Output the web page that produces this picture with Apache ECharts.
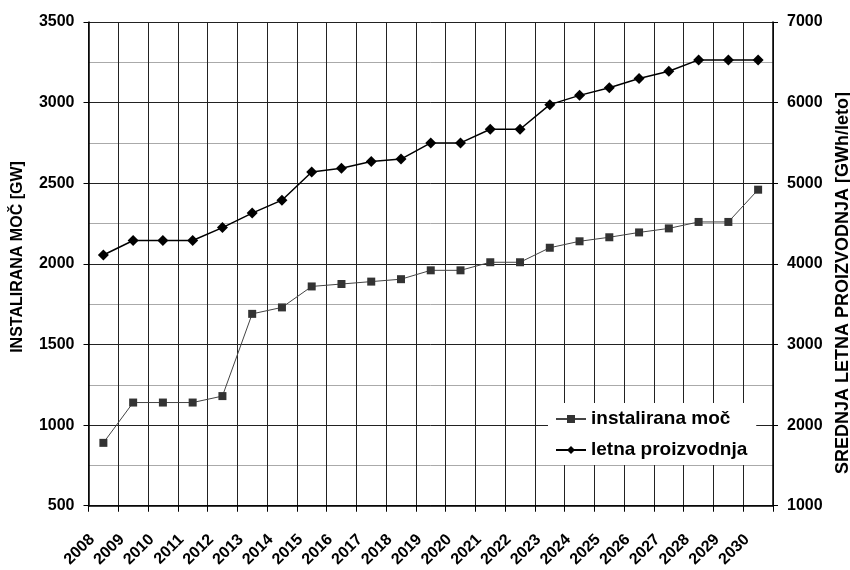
<!DOCTYPE html>
<html>
<head>
<meta charset="utf-8">
<script src="https://cdn.jsdelivr.net/npm/echarts@6/dist/echarts.min.js"></script>
<style>
  html, body { margin: 0; padding: 0; background: #fff; }
  #chart { width: 850px; height: 570px; }
</style>
</head>
<body>
<div id="chart"></div>
<script>
(function() {
  'use strict';

  // podatki
  var years = ['2008', '2009', '2010', '2011', '2012', '2013', '2014', '2015', '2016', '2017', '2018', '2019',
    '2020', '2021', '2022', '2023', '2024', '2025', '2026', '2027', '2028', '2029', '2030'];
  var instaliranaMoc = [890, 1140, 1140, 1140, 1180, 1690, 1730, 1860, 1875, 1890, 1905, 1960,
    1960, 2010, 2010, 2100, 2140, 2165, 2195, 2220, 2260, 2260, 2460];
  var letnaProizvodnja = [4110, 4290, 4290, 4290, 4450, 4630, 4790, 5140, 5185, 5270, 5300, 5500,
    5500, 5670, 5670, 5975, 6090, 6185, 6300, 6390, 6530, 6530, 6530];

  var font = 'Arial, "Liberation Sans", sans-serif';

  function plain(v) { // brez locila za tisocice
    return String(v);
  }

  var myChart = echarts.init(document.getElementById('chart'));

  var option = {
    backgroundColor: '#fff',
    animation: false,
    textStyle: { fontFamily: font },
    grid: { left: 88.5, right: 77, top: 22, bottom: 63 },
    legend: {
      orient: 'vertical',
      left: 548,
      top: 403,
      backgroundColor: '#fff',
      padding: [5, 9, 4, 7],
      itemWidth: 30,
      itemHeight: 10,
      itemGap: 9,
      itemTextGap: 8,
      textStyle: { fontFamily: font, fontSize: 19, fontWeight: 'bold', color: '#000', lineHeight: 22 },
      data: ['instalirana moč', 'letna proizvodnja']
    },
    graphic: [{
      type: 'text',
      x: 18, y: 257,
      rotation: Math.PI / 2,
      style: {
        text: 'INSTALIRANA MOČ [GW]',
        font: 'bold 16px ' + font,
        fill: '#000',
        align: 'center',
        verticalAlign: 'middle'
      }
    }, {
      type: 'text',
      x: 843, y: 283,
      rotation: Math.PI / 2,
      style: {
        text: 'SREDNJA LETNA PROIZVODNJA [GWh/leto]',
        font: 'bold 18px ' + font,
        fill: '#000',
        align: 'center',
        verticalAlign: 'middle'
      }
    }],
    xAxis: {
      type: 'category',
      data: years,
      boundaryGap: true,
      axisLine: { lineStyle: { color: '#000', width: 1.5 } },
      axisTick: { show: true, length: 6, lineStyle: { color: '#000' } },
      axisLabel: {
        rotate: 45,
        margin: 20,
        padding: [0, 16, 0, 0],
        fontFamily: font,
        fontSize: 16,
        fontWeight: 'bold',
        color: '#000',
        interval: 0
      },
      splitLine: { show: true, interval: 0, lineStyle: { color: '#222', width: 1 } }
    },
    yAxis: [{
      type: 'value',
      min: 500,
      max: 3500,
      interval: 500,
      axisLine: { show: true, lineStyle: { color: '#000', width: 1.5 } },
      axisTick: { show: true, length: 5, lineStyle: { color: '#000' } },
      axisLabel: { margin: 14, formatter: plain, fontFamily: font, fontSize: 16, fontWeight: 'bold', color: '#000' },
      splitLine: { show: true, lineStyle: { color: '#222', width: 1 } },
      minorTick: { show: false, splitNumber: 2 },
      minorSplitLine: { show: true, lineStyle: { color: '#aaa', width: 1 } }
    }, {
      type: 'value',
      min: 1000,
      max: 7000,
      interval: 1000,
      position: 'right',
      axisLine: { show: true, lineStyle: { color: '#000', width: 1.5 } },
      axisTick: { show: true, length: 5, lineStyle: { color: '#000' } },
      axisLabel: { margin: 14, formatter: plain, fontFamily: font, fontSize: 16, fontWeight: 'bold', color: '#000' },
      splitLine: { show: false }
    }],
    series: [{
      name: 'instalirana moč',
      type: 'line',
      yAxisIndex: 0,
      data: instaliranaMoc,
      symbol: 'rect',
      symbolSize: 8,
      lineStyle: { color: '#444', width: 1 },
      itemStyle: { color: '#333' },
      z: 3
    }, {
      name: 'letna proizvodnja',
      type: 'line',
      yAxisIndex: 1,
      data: letnaProizvodnja,
      symbol: 'diamond',
      symbolSize: 11,
      lineStyle: { color: '#000', width: 1.5 },
      itemStyle: { color: '#000' },
      z: 3
    }]
  };

  myChart.setOption(option);
}());
</script>
</body>
</html>
